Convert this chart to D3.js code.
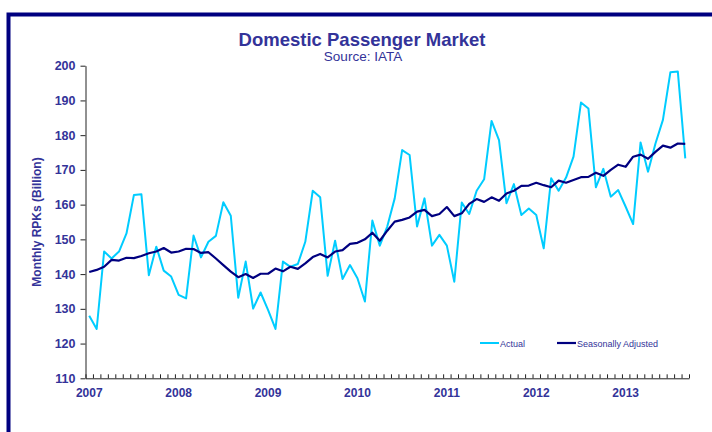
<!DOCTYPE html>
<html><head><meta charset="utf-8">
<script src="https://cdn.jsdelivr.net/npm/d3@7"></script>
<style>html,body{margin:0;padding:0;background:#fff;}svg{display:block;font-family:"Liberation Sans",Arial,sans-serif;}</style>
</head><body><svg id="c" width="712" height="432"></svg>
<script>
const yearLabels = ["2007","2008","2009","2010","2011","2012","2013"];
const monthsPerYear = 12;
const monthCount = 81; // Jan 2007 .. Sep 2013
const actual = [128.0,124.2,146.5,144.5,146.5,151.7,162.8,163.0,139.7,147.9,141.0,139.3,
 134.0,133.0,151.1,144.8,149.3,151.0,160.7,156.8,133.2,143.6,130.1,134.7,
 129.7,124.2,143.6,142.1,142.9,149.3,164.0,162.1,139.5,149.6,138.6,142.6,
 138.8,132.1,155.4,148.2,153.7,161.8,175.7,174.3,153.7,161.8,148.2,151.3,
 148.2,137.8,160.6,157.3,164.0,167.3,184.1,178.6,160.4,165.9,157.0,158.9,
 157.0,147.4,167.6,164.0,167.8,173.8,189.4,187.7,165.0,170.3,162.3,164.2,
 159.4,154.4,177.9,169.5,177.6,184.4,198.1,198.3,173.3];
const seasonallyAdjusted = [140.6,141.2,142.1,144.1,143.9,144.7,144.6,145.2,146.0,146.5,147.5,146.2,
 146.5,147.3,147.2,146.1,146.3,144.5,142.6,140.7,139.1,140.0,138.9,140.1,
 140.1,141.6,140.8,142.1,141.5,143.1,144.9,145.8,144.8,146.5,146.9,148.7,
 149.0,150.0,151.9,149.6,152.5,155.1,155.6,156.3,158.0,158.5,156.7,157.3,
 159.3,156.7,157.5,160.2,161.6,160.8,162.1,161.1,163.2,164.0,165.4,165.5,
 166.3,165.6,165.0,166.9,166.3,167.1,167.9,168.0,169.2,168.3,170.0,171.5,
 170.9,173.8,174.4,173.2,175.2,177.0,176.4,177.6,177.5];
const yTicks = [110,120,130,140,150,160,170,180,190,200];
const seriesNames = ["Actual","Seasonally Adjusted"];
const seriesColors = ["#00CCFF","#000080"];

const svg = d3.select("#c");
const textColor = "#333399";
const L = 85.5, R = 689, T = 65.7, B = 378.3;

// frame
svg.append("rect").attr("x",8.5).attr("y",14.5).attr("width",760).attr("height",480)
  .attr("fill","none").attr("stroke","#000080").attr("stroke-width",4);

// title
svg.append("text").attr("x",362).attr("y",46).attr("text-anchor","middle")
  .attr("font-size",18.5).attr("font-weight","bold").attr("fill",textColor).text("Domestic Passenger Market");
svg.append("text").attr("x",363).attr("y",61).attr("text-anchor","middle")
  .attr("font-size",13.5).attr("fill",textColor).text("Source: IATA");

const idx = d3.range(monthCount);
const x = d3.scaleBand().domain(idx).range([L, R]).padding(0);
const xEdge = d3.scaleLinear().domain([0, monthCount]).range([L, R]);
const y = d3.scaleLinear().domain([110, 200]).range([B, T]);

// y axis
const yAx = svg.append("g").attr("transform",`translate(${L},0)`)
  .call(d3.axisLeft(y).tickValues(yTicks).tickSize(5).tickPadding(5).tickSizeOuter(0));
yAx.select(".domain").attr("stroke","#222");
yAx.selectAll(".tick line").attr("stroke","#222");
yAx.selectAll("text").attr("font-size",12.5).attr("font-weight","bold").attr("fill",textColor)
  .attr("font-family","Liberation Sans, Arial, sans-serif");

// x axis minor ticks
const xAx = svg.append("g").attr("transform",`translate(0,${B})`)
  .call(d3.axisBottom(xEdge).tickValues(d3.range(0, monthCount+1)).tickSize(-4).tickSizeOuter(0).tickFormat(""));
xAx.select(".domain").attr("stroke","#222");
xAx.selectAll(".tick line").attr("stroke","#222");

// year labels
const yearIdx = yearLabels.map((d,i)=>i*monthsPerYear);
const xLab = svg.append("g").attr("transform",`translate(0,${B})`)
  .call(d3.axisBottom(x).tickValues(yearIdx).tickSize(0).tickPadding(10).tickFormat((d,i)=>yearLabels[i]));
xLab.select(".domain").remove();
xLab.selectAll("text").attr("font-size",12).attr("font-weight","bold").attr("fill",textColor)
  .attr("font-family","Liberation Sans, Arial, sans-serif");

// y label
svg.append("text").attr("transform",`translate(41,${(T+B)/2}) rotate(-90)`).attr("text-anchor","middle")
  .attr("font-size",12).attr("font-weight","bold").attr("fill",textColor).text("Monthly RPKs (Billion)");

// lines
const cx = i => x(i) + x.bandwidth()/2;
const line = d3.line().x((d,i)=>cx(i)).y(d=>y(d));
svg.append("path").datum(actual).attr("d",line).attr("fill","none")
  .attr("stroke",seriesColors[0]).attr("stroke-width",2).attr("stroke-linejoin","round");
svg.append("path").datum(seasonallyAdjusted).attr("d",line).attr("fill","none")
  .attr("stroke",seriesColors[1]).attr("stroke-width",2.2).attr("stroke-linejoin","round");

// legend
const legX = [480, 557], legY = 343;
seriesNames.forEach((n,i)=>{
  svg.append("line").attr("x1",legX[i]).attr("x2",legX[i]+19).attr("y1",legY).attr("y2",legY)
    .attr("stroke",seriesColors[i]).attr("stroke-width",i?2.2:2);
  svg.append("text").attr("x",legX[i]+20).attr("y",legY+3.5).attr("font-size",9).attr("fill",textColor).text(n);
});
</script></body></html>
